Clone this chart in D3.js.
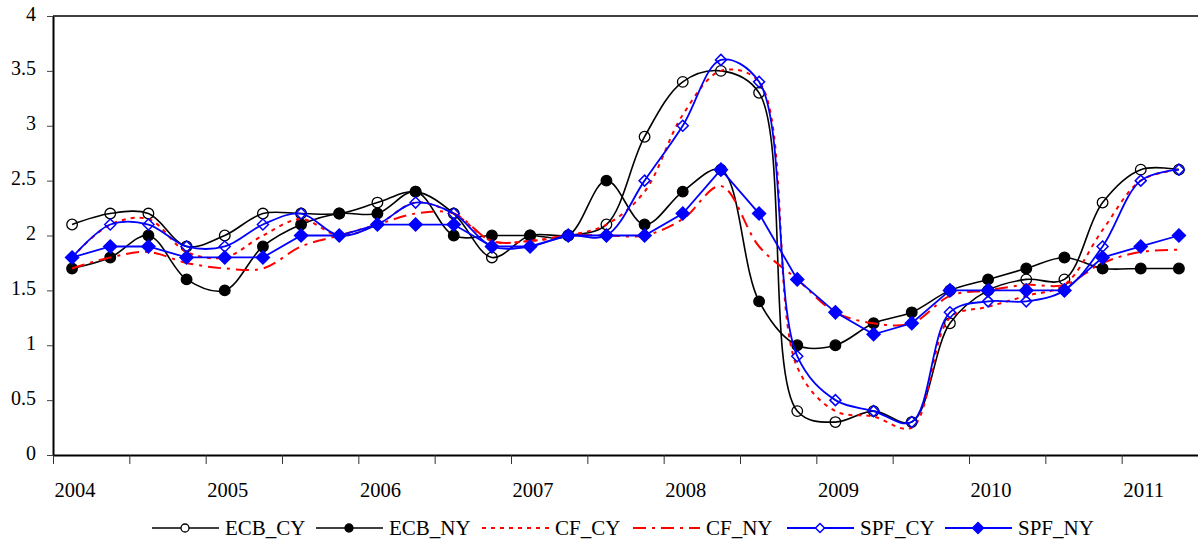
<!DOCTYPE html>
<html>
<head>
<meta charset="utf-8">
<script src="https://cdn.jsdelivr.net/npm/d3@7"></script>
<style>
  body { margin: 0; background: #fff; }
  svg text { font-family: "Liberation Serif", "DejaVu Serif", serif; fill: #000; }
</style>
</head>
<body>
<div id="chart"></div>
<script>
const WIDTH = 1198;
const HEIGHT = 541;

// quarters 2004Q1 .. 2011Q2
const quarters = d3.range(30).map(i => `${2004 + Math.floor(i / 4)}Q${i % 4 + 1}`);
const yearLabels = ["2004", "2005", "2006", "2007", "2008", "2009", "2010", "2011"];
const yTicks = [0, 0.5, 1, 1.5, 2, 2.5, 3, 3.5, 4];

const ecbCY = [2.1, 2.2, 2.2, 1.9, 2.0, 2.2, 2.2, 2.2, 2.3, 2.4, 2.2, 1.8, 2.0, 2.0, 2.1, 2.9, 3.4, 3.5, 3.3, 0.4, 0.3, 0.4, 0.3, 1.2, 1.5, 1.6, 1.6, 2.3, 2.6, 2.6];
const ecbNY = [1.7, 1.8, 2.0, 1.6, 1.5, 1.9, 2.1, 2.2, 2.2, 2.4, 2.0, 2.0, 2.0, 2.0, 2.5, 2.1, 2.4, 2.6, 1.4, 1.0, 1.0, 1.2, 1.3, 1.5, 1.6, 1.7, 1.8, 1.7, 1.7, 1.7];
const cfCY  = [1.8, 2.1, 2.15, 1.85, 1.8, 2.0, 2.15, 2.0, 2.1, 2.3, 2.2, 1.95, 1.95, 2.0, 2.1, 2.4, 3.1, 3.5, 3.4, 0.8, 0.4, 0.35, 0.25, 1.25, 1.35, 1.45, 1.55, 2.05, 2.5, 2.6];
const cfNY  = [1.7, 1.8, 1.85, 1.75, 1.7, 1.7, 1.9, 2.0, 2.1, 2.2, 2.2, 1.95, 1.95, 2.0, 2.0, 2.0, 2.15, 2.45, 1.9, 1.6, 1.3, 1.2, 1.2, 1.45, 1.5, 1.55, 1.55, 1.75, 1.85, 1.87];
const spfCY = [1.8, 2.1, 2.1, 1.9, 1.9, 2.1, 2.2, 2.0, 2.1, 2.3, 2.2, 1.9, 1.9, 2.0, 2.0, 2.5, 3.0, 3.6, 3.4, 0.9, 0.5, 0.4, 0.3, 1.3, 1.4, 1.4, 1.5, 1.9, 2.5, 2.6];
const spfNY = [1.8, 1.9, 1.9, 1.8, 1.8, 1.8, 2.0, 2.0, 2.1, 2.1, 2.1, 1.9, 1.9, 2.0, 2.0, 2.0, 2.2, 2.6, 2.2, 1.6, 1.3, 1.1, 1.2, 1.5, 1.5, 1.5, 1.5, 1.8, 1.9, 2.0];

const smooth = d3.curveCatmullRom.alpha(0.5);

const series = [
  { name: "ECB_CY", values: ecbCY, color: "#000", width: 1.6, dash: null, curve: smooth, marker: "circle", fill: "none" },
  { name: "ECB_NY", values: ecbNY, color: "#000", width: 1.6, dash: null, curve: smooth, marker: "circle", fill: "#000" },
  { name: "CF_CY", values: cfCY, color: "#ff0000", width: 2, dash: "4,5", curve: smooth, marker: null },
  { name: "CF_NY", values: cfNY, color: "#ff0000", width: 2, dash: "13,6,3,6", curve: smooth, marker: null },
  { name: "SPF_CY", values: spfCY, color: "#0000ff", width: 1.8, dash: null, curve: smooth, marker: "diamond", fill: "none" },
  { name: "SPF_NY", values: spfNY, color: "#0000ff", width: 1.8, dash: null, curve: d3.curveLinear, marker: "diamond", fill: "#0000ff" }
];

const plotLeft = 53, plotRight = 1198, plotTop = 16, plotBottom = 455;

const svg = d3.select("#chart").append("svg")
    .attr("width", WIDTH)
    .attr("height", HEIGHT);

const x = d3.scaleBand().domain(quarters).range([plotLeft, plotRight]);
const y = d3.scaleLinear().domain([0, 4]).range([plotBottom, plotTop]);
const cx = q => x(q) + x.bandwidth() / 2;

// frame top line
svg.append("line")
    .attr("x1", plotLeft).attr("x2", plotRight)
    .attr("y1", plotTop).attr("y2", plotTop)
    .attr("stroke", "#000").attr("stroke-width", 1.5);

// y axis
const yAxis = svg.append("g")
    .attr("transform", `translate(${plotLeft},0)`)
    .call(d3.axisLeft(y).tickValues(yTicks).tickSize(6).tickSizeOuter(0).tickFormat(d3.format("")));
yAxis.select(".domain").attr("stroke-width", 2);
yAxis.selectAll(".tick line").attr("stroke", "#444");
yAxis.selectAll(".tick text")
    .attr("x", -17)
    .attr("dy", "0.2em")
    .style("font-size", "20px");

// x axis: ticks every two quarters, labels once per year
const tickQuarters = quarters.filter((q, i) => i % 2 === 0);
const xAxis = svg.append("g")
    .attr("transform", `translate(0,${plotBottom})`)
    .call(d3.axisBottom(x).tickValues(tickQuarters).tickSize(9).tickSizeOuter(0).tickFormat(""));
xAxis.select(".domain").attr("stroke-width", 2.2);
xAxis.selectAll(".tick").attr("transform", d => `translate(${x(d) + 0.5},0)`);
xAxis.selectAll(".tick line").attr("stroke", "#333");

svg.append("g").selectAll("text")
    .data(yearLabels)
    .join("text")
    .attr("x", (d, i) => cx(quarters[i * 4]) + 3)
    .attr("y", 497)
    .attr("text-anchor", "middle")
    .attr("textLength", 41)
    .attr("lengthAdjust", "spacingAndGlyphs")
    .style("font-size", "22px")
    .text(d => d);

// lines and markers
const diamond = s => `M0,${-s}L${s},0L0,${s}L${-s},0Z`;

series.forEach(s => {
  const line = d3.line()
      .x((d, i) => cx(quarters[i]))
      .y(d => y(d))
      .curve(s.curve);
  svg.append("path")
      .datum(s.values)
      .attr("d", line)
      .attr("fill", "none")
      .attr("stroke", s.color)
      .attr("stroke-width", s.width)
      .attr("stroke-dasharray", s.dash);

  if (s.marker === "circle") {
    svg.append("g").selectAll("circle")
        .data(s.values)
        .join("circle")
        .attr("cx", (d, i) => cx(quarters[i]))
        .attr("cy", d => y(d))
        .attr("r", 5.3)
        .attr("fill", s.fill)
        .attr("stroke", "#000")
        .attr("stroke-width", 1.3);
  } else if (s.marker === "diamond") {
    svg.append("g").selectAll("path")
        .data(s.values)
        .join("path")
        .attr("transform", (d, i) => `translate(${cx(quarters[i])},${y(d)})`)
        .attr("d", s.fill === "none" ? diamond(5.5) : diamond(6.5))
        .attr("fill", s.fill)
        .attr("stroke", s.color)
        .attr("stroke-width", 1.5);
  }
});

// legend
const legendX = [152, 316, 482, 633, 787, 945];
const legendY = 528;
const legend = svg.append("g");
series.forEach((s, i) => {
  const g = legend.append("g").attr("transform", `translate(${legendX[i]},${legendY})`);
  g.append("line")
      .attr("x1", 0).attr("x2", 67)
      .attr("stroke", s.color)
      .attr("stroke-width", s.width)
      .attr("stroke-dasharray", s.dash);
  if (s.marker === "circle") {
    g.append("circle").attr("cx", 33).attr("r", 4)
        .attr("fill", s.fill === "none" ? "#fff" : s.fill)
        .attr("stroke", "#000").attr("stroke-width", 1.3);
  } else if (s.marker === "diamond") {
    g.append("path").attr("transform", "translate(33,0)")
        .attr("d", s.fill === "none" ? diamond(4.5) : diamond(5.5))
        .attr("fill", s.fill === "none" ? "#fff" : s.fill)
        .attr("stroke", s.color).attr("stroke-width", 1.5);
  }
  g.append("text")
      .attr("x", 73)
      .attr("dy", "0.35em")
      .style("font-size", "21px")
      .text(s.name);
});
</script>
</body>
</html>
